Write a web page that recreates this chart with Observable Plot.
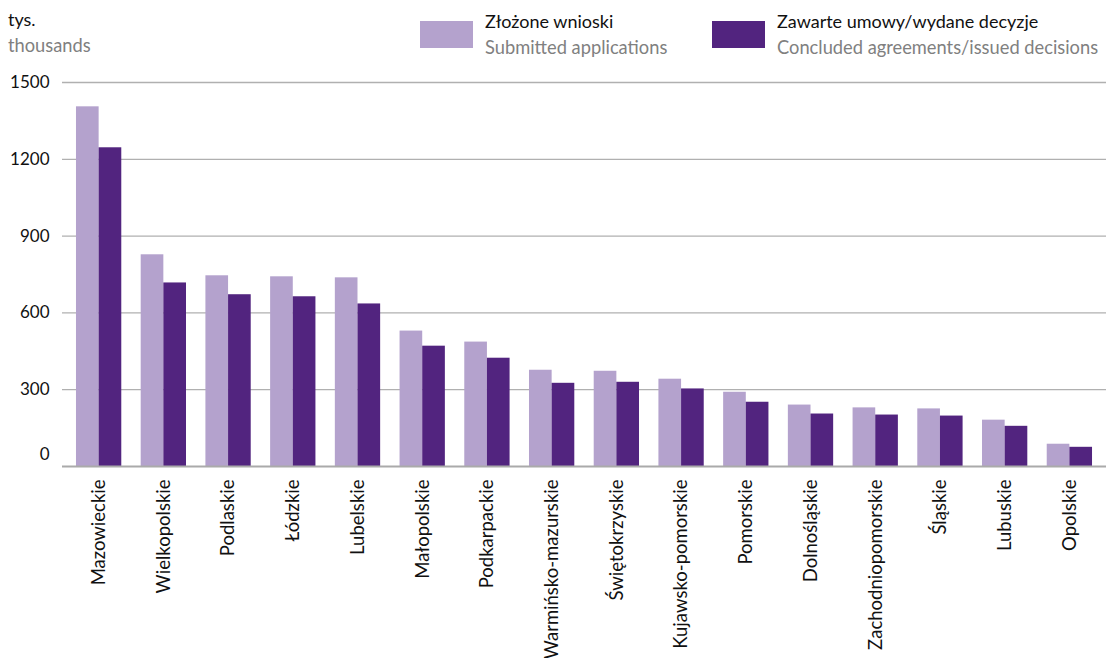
<!DOCTYPE html>
<html>
<head>
<meta charset="utf-8">
<script src="https://cdn.jsdelivr.net/npm/d3@7"></script>
<script src="https://cdn.jsdelivr.net/npm/@observablehq/plot@0.6"></script>
<style>
  html, body { margin: 0; padding: 0; background: #fff; }
  body { width: 1109px; height: 658px; overflow: hidden; font-family: Lato, "Open Sans", sans-serif; }
  #header { position: relative; width: 1109px; height: 62px; }
  #header div { position: absolute; white-space: nowrap; }
  .pl { color: #111; font-size: 18px; }
  .en { color: #808080; font-size: 18.3px; }
  .sw { width: 53px; height: 27px; }
  svg { display: block; }
</style>
</head>
<body>
<div id="header"></div>
<div id="chart"></div>
<script>
const regions = ["Mazowieckie","Wielkopolskie","Podlaskie","Łódzkie","Lubelskie","Małopolskie","Podkarpackie","Warmińsko-mazurskie","Świętokrzyskie","Kujawsko-pomorskie","Pomorskie","Dolnośląskie","Zachodniopomorskie","Śląskie","Lubuskie","Opolskie"];
const submitted = [1405, 827, 745, 741, 737, 529, 486, 376, 372, 341, 290, 240, 229, 225, 181, 87];
const concluded = [1245, 717, 671, 663, 635, 470, 423, 325, 329, 303, 251, 205, 201, 197, 157, 75];
const yTicks = [0, 300, 600, 900, 1200, 1500];
const seriesPL = ["Złożone wnioski", "Zawarte umowy/wydane decyzje"];
const seriesEN = ["Submitted applications", "Concluded agreements/issued decisions"];
const colors = ["#b4a2cd", "#52247f"];
const unitPL = "tys.";
const unitEN = "thousands";

// header (legend + unit label)
const header = document.getElementById("header");
function add(cls, text, style) {
  const d = document.createElement("div");
  d.className = cls;
  if (text) d.textContent = text;
  Object.assign(d.style, style);
  header.appendChild(d);
}
add("pl", unitPL, {left: "8px", top: "8px"});
add("en", unitEN, {left: "8px", top: "34px"});
const legendX = [420, 712];
seriesPL.forEach((s, i) => {
  add("sw", null, {left: legendX[i] + "px", top: "21px", background: colors[i]});
  add("pl", s, {left: (legendX[i] + 65) + "px", top: "10px"});
  add("en", seriesEN[i], {left: (legendX[i] + 65) + "px", top: "36px"});
});

const data = regions.map((r, i) => ({region: r, submitted: submitted[i], concluded: concluded[i]}));

const width = 1109, height = 596, marginLeft = 62, marginRight = 3;
const padIn = 0.3, padOut = 0.216;
const bw = d3.scaleBand().domain(regions).range([marginLeft, width - marginRight])
  .paddingInner(padIn).paddingOuter(padOut).bandwidth();

const chart = Plot.plot({
  width, height,
  marginLeft, marginRight, marginTop: 20, marginBottom: 192,
  style: {fontFamily: "Lato, 'Open Sans', sans-serif", fontSize: "18.5px", color: "#111", background: "#fff"},
  x: {domain: regions, paddingInner: padIn, paddingOuter: padOut, round: false, tickRotate: -90, tickSize: 0, tickPadding: 13, label: null},
  y: {domain: [0, 1500], axis: null},
  marks: [
    Plot.ruleY(yTicks.filter(d => d > 0), {stroke: "#b0b0b0", strokeWidth: 1.3}),
    Plot.barY(data, {x: "region", y: "submitted", fill: colors[0], insetRight: bw / 2}),
    Plot.barY(data, {x: "region", y: "concluded", fill: colors[1], insetLeft: bw / 2}),
    Plot.ruleY([0], {stroke: "#aaaaaa", strokeWidth: 2}),
    Plot.text(yTicks.filter(d => d > 0), {y: d => d, text: d => String(d), frameAnchor: "left", dx: -13, textAnchor: "end", fill: "#111", fontSize: 17}),
    Plot.text([0], {y: d => d, text: d => String(d), frameAnchor: "left", dx: -13, dy: -12, textAnchor: "end", fill: "#111", fontSize: 17})
  ]
});
document.getElementById("chart").appendChild(chart);
</script>
</body>
</html>
